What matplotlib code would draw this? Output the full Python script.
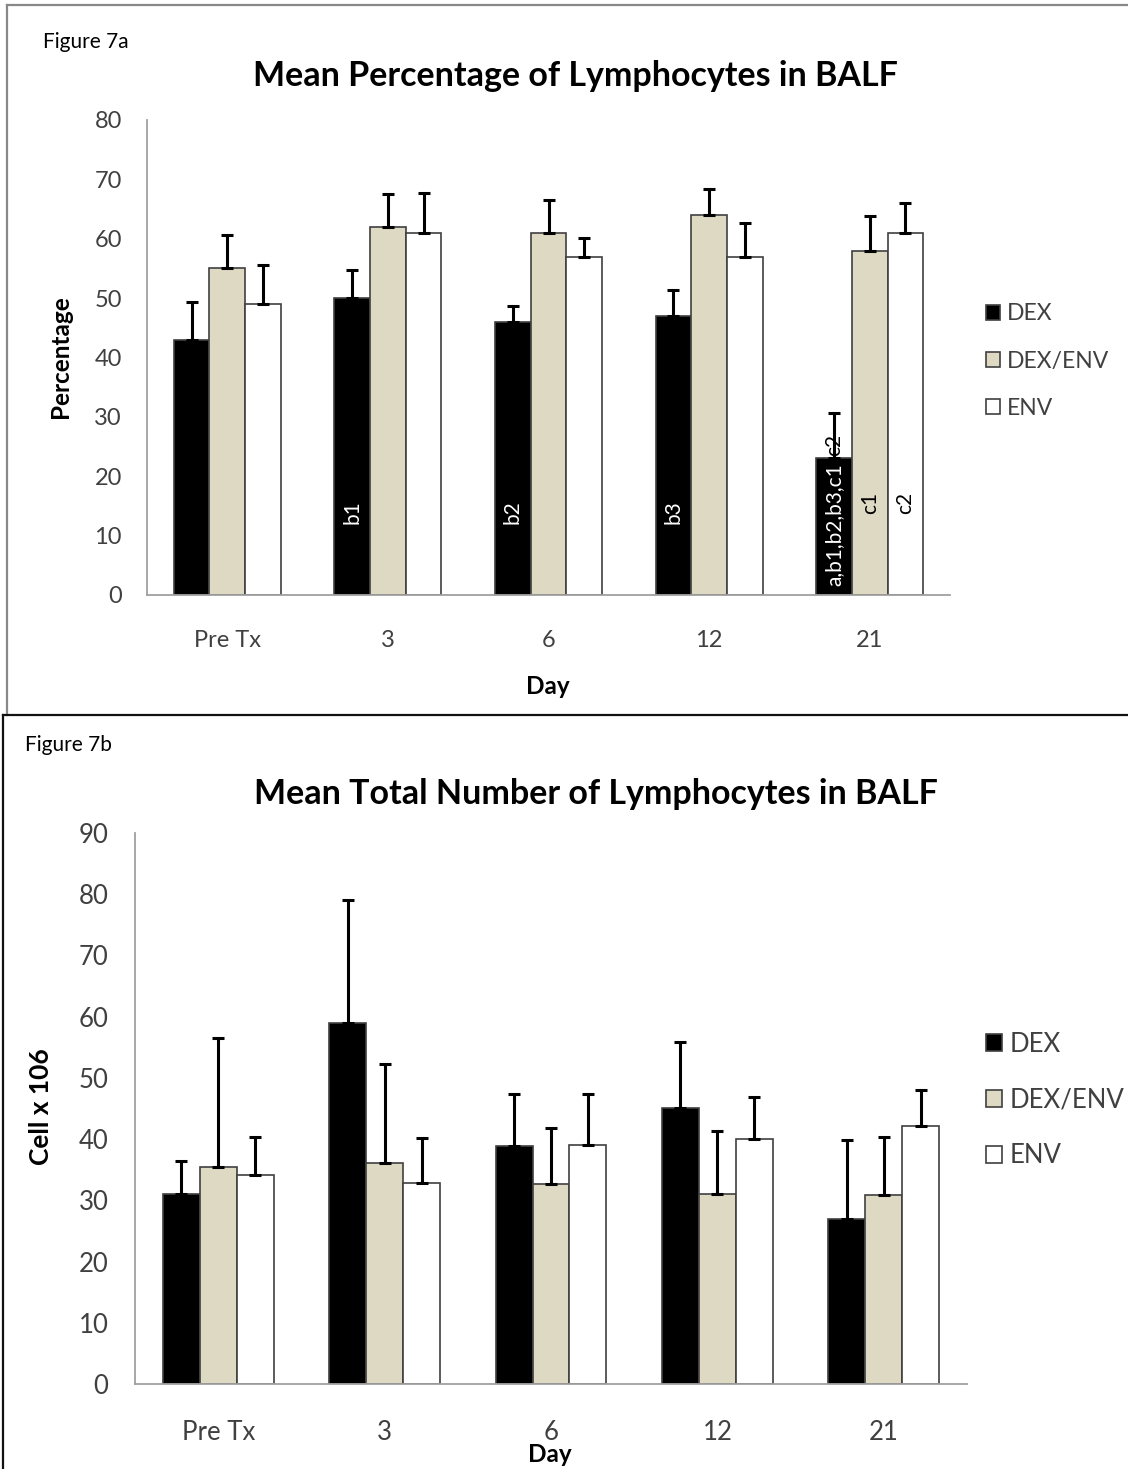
import matplotlib
matplotlib.use("Agg")
import matplotlib.pyplot as plt
import numpy as np
from matplotlib.patches import Patch
from matplotlib.lines import Line2D

plt.rcParams['font.family'] = ['Lato', 'DejaVu Sans']

days = ["Pre Tx", "3", "6", "12", "21"]
groups = ["DEX", "DEX/ENV", "ENV"]
colors = ["#000000", "#DDD9C3", "#FFFFFF"]

# Figure 7a: mean percentage
pct_dex = [43, 50, 46, 47, 23]
pct_dexenv = [55, 62, 61, 64, 58]
pct_env = [49, 61, 57, 57, 61]
pct_dex_err = [6.3, 4.8, 2.7, 4.3, 7.7]
pct_dexenv_err = [5.7, 5.6, 5.5, 4.4, 5.9]
pct_env_err = [6.5, 6.7, 3.2, 5.7, 5.1]

# Figure 7b: mean total number
num_dex = [31, 58.9, 38.9, 45.1, 26.9]
num_dexenv = [35.5, 36.1, 32.7, 31.1, 30.9]
num_env = [34.1, 32.9, 39.1, 40.0, 42.1]
num_dex_err = [5.5, 20.1, 8.4, 10.8, 13.0]
num_dexenv_err = [21.0, 16.1, 9.1, 10.2, 9.5]
num_env_err = [6.3, 7.2, 8.2, 6.8, 5.9]

# significance annotations (day index, group index, text, y position, colour)
ann_text = ["b1", "b2", "b3", "a,b1,b2,b3,c1", "c2", "c1", "c2"]
ann_day = [1, 2, 3, 4, 4, 4, 4]
ann_group = [0, 0, 0, 0, 0, 1, 2]
ann_y = [14, 14, 14, 11.8, 23.4, 15.5, 15.5]
ann_va = ["center", "center", "center", "center", "bottom", "center", "center"]
ann_color = ["white", "white", "white", "white", "black", "black", "black"]

W, H = 1128, 1469
fig = plt.figure(figsize=(W / 100, H / 100), dpi=100)

TXT = "#404040"
AXC = "#A0A0A0"
barw = 0.222


def fx(px):
    return px / W


def fy(py):
    return 1 - py / H


def draw_panel(ax, series, errs, ymax, ystep, fs):
    x = np.arange(len(days))
    for i, (vals, er, c) in enumerate(zip(series, errs, colors)):
        pos = x + (i - 1) * barw
        ax.bar(pos, vals, width=barw, color=c, edgecolor="#404040",
               linewidth=1.2, label=groups[i], zorder=2)
        ax.errorbar(pos, vals, yerr=[np.zeros(len(vals)), er], fmt="none",
                    ecolor="black", elinewidth=2.2, capsize=4.5, capthick=2.2,
                    zorder=3)
    ax.set_xlim(-0.5, len(days) - 0.5)
    ax.set_ylim(0, ymax)
    ax.set_yticks(np.arange(0, ymax + 1, ystep))
    ax.set_xticks(x)
    ax.set_xticklabels(days)
    for s in ["top", "right"]:
        ax.spines[s].set_visible(False)
    for s in ["left", "bottom"]:
        ax.spines[s].set_color(AXC)
        ax.spines[s].set_linewidth(1.3)
    ax.tick_params(axis="both", length=0, labelsize=fs, colors=TXT)
    ax.set_facecolor("none")


# ---------- top panel ----------
ax1 = fig.add_axes([fx(147), fy(595), fx(950 - 147), (595 - 120) / H])
draw_panel(ax1, [pct_dex, pct_dexenv, pct_env],
           [pct_dex_err, pct_dexenv_err, pct_env_err], 80, 10, 17)
ax1.tick_params(axis="y", pad=18)
ax1.tick_params(axis="x", pad=25)
for t, d, g, yv, va, c in zip(ann_text, ann_day, ann_group, ann_y, ann_va, ann_color):
    ax1.text(d + (g - 1) * barw, yv, t, rotation=90, ha="center", va=va,
             color=c, fontsize=15, zorder=4)

# ---------- bottom panel ----------
ax2 = fig.add_axes([fx(135), fy(1384), fx(967 - 135), (1384 - 833) / H])
draw_panel(ax2, [num_dex, num_dexenv, num_env],
           [num_dex_err, num_dexenv_err, num_env_err], 90, 10, 18.5)
ax2.tick_params(axis="y", pad=19)
ax2.tick_params(axis="x", pad=26)

# ---------- frames ----------
fig.add_artist(Line2D([fx(6.5), fx(6.5)], [fy(5), fy(715)], color="#888888", lw=1.6))
fig.add_artist(Line2D([fx(6.5), 1.0], [fy(5), fy(5)], color="#888888", lw=1.6))
fig.add_artist(Line2D([fx(3), fx(3)], [fy(715), 0], color="#111111", lw=1.6))
fig.add_artist(Line2D([fx(3), 1.0], [fy(715), fy(715)], color="#111111", lw=1.6))

# ---------- texts ----------
fig.text(fx(43), fy(42), "Figure 7a", fontsize=15, ha="left", va="center", color="black")
fig.text(fx(575), fy(76), "Mean Percentage of Lymphocytes in BALF", fontsize=24.5,
         fontweight="bold", ha="center", va="center", color="black")
fig.text(fx(60), fy(357), "Percentage", fontsize=17.5, fontweight="bold",
         rotation=90, ha="center", va="center", color="black")
fig.text(fx(548), fy(687), "Day", fontsize=17.5, fontweight="bold",
         ha="center", va="center", color="black")

fig.text(fx(25), fy(745), "Figure 7b", fontsize=15, ha="left", va="center", color="black")
fig.text(fx(596), fy(794), "Mean Total Number of Lymphocytes in BALF", fontsize=24.5,
         fontweight="bold", ha="center", va="center", color="black")
fig.text(fx(41), fy(1107), "Cell x 106", fontsize=19, fontweight="bold",
         rotation=90, ha="center", va="center", color="black")
fig.text(fx(550), fy(1454), "Day", fontsize=17.5, fontweight="bold",
         ha="center", va="center", color="black")

# ---------- legends ----------
for ax, yc, sp, fs in [(ax1, 361, 1.15, 16.5), (ax2, 1100, 1.2, 18.5)]:
    handles = [Patch(facecolor=c, edgecolor="#404040", linewidth=1.2) for c in colors]
    leg = ax.legend(handles, groups, loc="center left",
                    bbox_to_anchor=(fx(986), fy(yc)), bbox_transform=fig.transFigure,
                    frameon=False, fontsize=fs, handlelength=0.62, handleheight=0.62,
                    handletextpad=0.3, labelspacing=sp, borderpad=0, borderaxespad=0)
    for t in leg.get_texts():
        t.set_color(TXT)

fig.savefig("out.png", dpi=100)
